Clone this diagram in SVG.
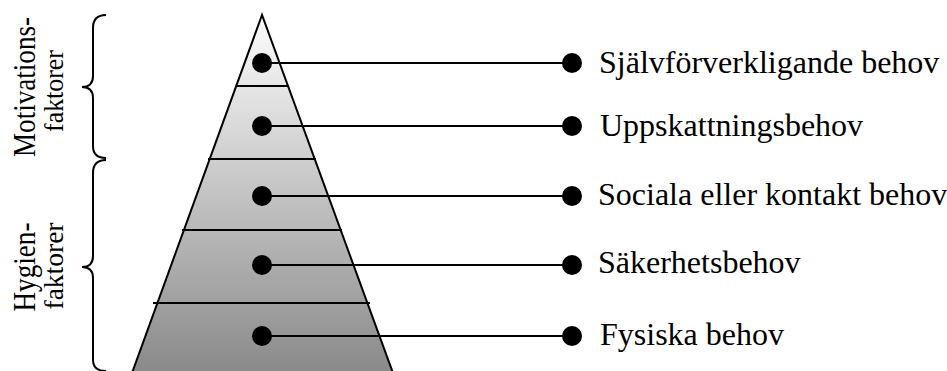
<svg xmlns="http://www.w3.org/2000/svg" width="947" height="371" viewBox="0 0 947 371">
<style>
.lbl{font-family:"Liberation Serif","Times New Roman",serif;font-size:32px;fill:#000}
.side{font-family:"Liberation Serif","Times New Roman",serif;font-size:31px;fill:#000;text-anchor:middle}
.side2{font-family:"Liberation Serif","Times New Roman",serif;font-size:27px;fill:#000;text-anchor:middle}
.ln{stroke:#000;stroke-width:2;fill:none}
.dot{fill:#000}
.brace{stroke:#000;stroke-width:2;fill:none}
</style>
<defs>
<linearGradient id="pg" x1="0" y1="15" x2="0" y2="371" gradientUnits="userSpaceOnUse">
<stop offset="0" stop-color="#fdfdfd"/>
<stop offset="1" stop-color="#8a8a8a"/>
</linearGradient>
</defs>
<rect width="947" height="371" fill="#fff"/>
<g id="pyramid">
<polygon points="262,15 132,373 393,373" fill="url(#pg)" stroke="#000" stroke-width="2"/>
<line class="ln" x1="236" y1="86" x2="288" y2="86"/>
<line class="ln" x1="208" y1="159" x2="316" y2="159"/>
<line class="ln" x1="182" y1="230" x2="342" y2="230"/>
<line class="ln" x1="153" y1="303" x2="370" y2="303"/>
</g>
<g id="connectors">
<line class="ln" x1="262" y1="63" x2="572" y2="63"/>
<line class="ln" x1="262" y1="126" x2="572" y2="126"/>
<line class="ln" x1="262" y1="196" x2="572" y2="196"/>
<line class="ln" x1="262" y1="265" x2="572" y2="265"/>
<line class="ln" x1="262" y1="336" x2="572" y2="336"/>
</g>
<g id="n1"><circle class="dot" cx="262" cy="63" r="10"/><circle class="dot" cx="572" cy="63" r="10"/><text class="lbl" x="599" y="73">Självförverkligande behov</text></g>
<g id="n2"><circle class="dot" cx="262" cy="126" r="10"/><circle class="dot" cx="572" cy="126" r="10"/><text class="lbl" x="600" y="136">Uppskattningsbehov</text></g>
<g id="n3"><circle class="dot" cx="262" cy="196" r="10"/><circle class="dot" cx="572" cy="196" r="10"/><text class="lbl" x="598" y="205">Sociala eller kontakt behov</text></g>
<g id="n4"><circle class="dot" cx="262" cy="265" r="10"/><circle class="dot" cx="572" cy="265" r="10"/><text class="lbl" x="598" y="273">Säkerhetsbehov</text></g>
<g id="n5"><circle class="dot" cx="262" cy="336" r="10"/><circle class="dot" cx="572" cy="336" r="10"/><text class="lbl" x="600" y="345">Fysiska behov</text></g>
<g id="motivation">
<path class="brace" d="M106,15 Q93,15 93,28 L93,76 Q93,87 82,87 Q93,87 93,98 L93,146 Q93,158 106,158"/>
<text class="side" transform="translate(35,87) rotate(-90)" textLength="140" lengthAdjust="spacingAndGlyphs">Motivations-</text>
<text class="side2" transform="translate(62.5,91) rotate(-90)" textLength="82" lengthAdjust="spacingAndGlyphs">faktorer</text>
</g>
<g id="hygien">
<path class="brace" d="M106,160 Q93,160 93,173 L93,256 Q93,267 82,267 Q93,267 93,278 L93,360 Q93,371 106,371"/>
<text class="side" transform="translate(35,267) rotate(-90)" textLength="89" lengthAdjust="spacingAndGlyphs">Hygien-</text>
<text class="side2" transform="translate(62.5,266) rotate(-90)" textLength="87" lengthAdjust="spacingAndGlyphs">faktorer</text>
</g>
</svg>
